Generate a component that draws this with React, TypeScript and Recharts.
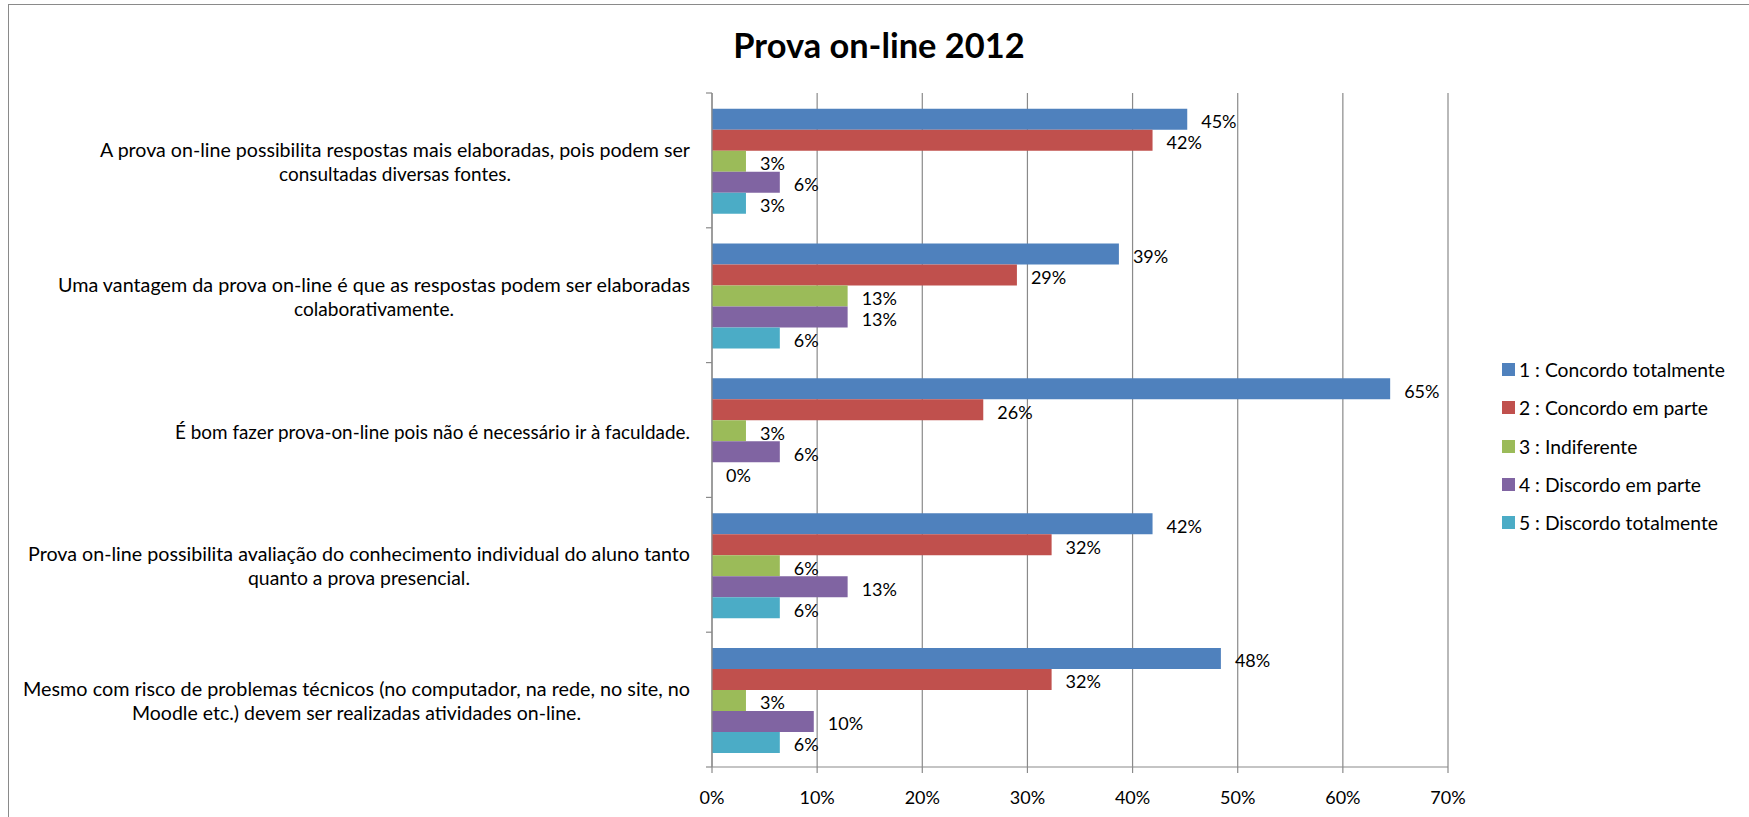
import React from 'react';
import { BarChart, Bar, XAxis, YAxis, CartesianGrid, LabelList, Legend } from 'recharts';

const categories = [
  'A prova on-line possibilita respostas mais elaboradas, pois podem ser consultadas diversas fontes.',
  'Uma vantagem da prova on-line é que as respostas podem ser elaboradas colaborativamente.',
  'É bom fazer prova-on-line pois não é necessário ir à faculdade.',
  'Prova on-line possibilita avaliação  do conhecimento individual do aluno tanto quanto a prova presencial.',
  'Mesmo com risco de problemas técnicos (no computador, na rede, no site, no Moodle etc.) devem ser realizadas atividades on-line.',
];
const categoryLines = [
  ['A prova on-line possibilita respostas mais elaboradas,  pois podem ser', 'consultadas diversas fontes.'],
  ['Uma vantagem da prova on-line é que as respostas podem ser elaboradas', 'colaborativamente.'],
  ['É bom fazer prova-on-line pois não é necessário ir à faculdade.'],
  ['Prova on-line possibilita avaliação  do conhecimento individual do aluno tanto', 'quanto a prova presencial.'],
  ['Mesmo com risco de problemas técnicos (no computador, na rede, no site, no', 'Moodle etc.) devem ser realizadas atividades on-line.'],
];
const seriesNames = [
  '1 : Concordo totalmente',
  '2 : Concordo em parte',
  '3 : Indiferente',
  '4 : Discordo em parte',
  '5 : Discordo totalmente',
];
const concordoTotalmente = [45.2, 38.7, 64.5, 41.9, 48.4];
const concordoEmParte = [41.9, 29.0, 25.8, 32.3, 32.3];
const indiferente = [3.23, 12.9, 3.23, 6.45, 3.23];
const discordoEmParte = [6.45, 12.9, 6.45, 12.9, 9.68];
const discordoTotalmente = [3.23, 6.45, 0, 6.45, 6.45];
const xTicks = [0, 10, 20, 30, 40, 50, 60, 70];

// styling
const colors = ['#4F81BD', '#C0504D', '#9BBB59', '#8064A2', '#4BACC6'];
const labelLineWidths = [[590, 232], [632, 160], [515], [662, 222], [667, 449]];
const FONT = 'Lato, "Open Sans", sans-serif';
const GRID = '#8a8a8a';
const FS = 18;

const seriesValues = [concordoTotalmente, concordoEmParte, indiferente, discordoEmParte, discordoTotalmente];
const data = categories.map((name, i) => {
  const row: any = { name };
  seriesValues.forEach((vals, s) => {
    row['s' + s] = vals[i];
  });
  return row;
});

const CategoryTick = (props: any) => {
  const { x, y, payload, index } = props;
  let i = categories.indexOf(payload.value);
  if (i < 0) i = index;
  const lines = categoryLines[i] || [];
  const widths = labelLineWidths[i] || [];
  const blockW = Math.max(...widths);
  const right = x - 22;
  const cx = right - blockW / 2;
  const lh = 24;
  const y0 = y + 1.5 - ((lines.length - 1) * lh) / 2;
  const half = payload && typeof payload.offset === 'number' ? payload.offset : 0;
  return (
    <g>
      {half > 0 && <line x1={x - 6} x2={x} y1={y - half} y2={y - half} stroke={GRID} strokeWidth={1.2} />}
      {half > 0 && i === categories.length - 1 && (
        <line x1={x - 6} x2={x} y1={y + half} y2={y + half} stroke={GRID} strokeWidth={1.2} />
      )}
      {lines.map((l, k) => (
        <text
          key={k}
          x={cx}
          y={y0 + k * lh}
          textAnchor="middle"
          dominantBaseline="central"
          textLength={widths[k]}
          lengthAdjust="spacingAndGlyphs"
          fontFamily={FONT}
          fontSize={18.5}
          fill="#000"
        >
          {l}
        </text>
      ))}
    </g>
  );
};

const XTick = (props: any) => {
  const { x, y, payload } = props;
  return (
    <text x={x} y={y + 21.5} textAnchor="middle" dominantBaseline="central" fontFamily={FONT} fontSize={FS} fill="#000">
      {payload.value + '%'}
    </text>
  );
};

const ValueLabel = (props: any) => {
  const { x, y, width, height, value } = props;
  return (
    <text
      x={x + width + 14}
      y={y + height / 2 + 2}
      textAnchor="start"
      dominantBaseline="central"
      fontFamily={FONT}
      fontSize={FS}
      fill="#000"
    >
      {Math.round(value) + '%'}
    </text>
  );
};

const LegendContent = () => (
  <div style={{ fontFamily: FONT, fontSize: 19.3, color: '#000' }}>
    {seriesNames.map((n, i) => (
      <div key={i} style={{ height: 38.2, display: 'flex', alignItems: 'center', whiteSpace: 'nowrap' }}>
        <span style={{ width: 13, height: 13, background: colors[i], display: 'inline-block', marginRight: 4 }} />
        <span>{n}</span>
      </div>
    ))}
  </div>
);

export default function App() {
  return (
    <div style={{ position: 'absolute', left: 0, top: 0, width: 1749, height: 817, overflow: 'hidden', background: '#fff', fontFamily: FONT }}>
      <div
        style={{
          position: 'absolute',
          left: 8,
          top: 4,
          width: 1780,
          height: 840,
          border: '1.5px solid #8a8a8a',
          boxSizing: 'border-box',
        }}
      />
      <div
        style={{
          position: 'absolute',
          left: 8,
          width: 1742,
          top: 24,
          lineHeight: '42px',
          textAlign: 'center',
          fontFamily: FONT,
          fontWeight: 700,
          fontSize: 34.4,
          color: '#000',
        }}
      >
        Prova on-line 2012
      </div>
      <div style={{ position: 'absolute', left: 0, top: 0 }}>
        <BarChart
          width={1749}
          height={817}
          data={data}
          layout="vertical"
          margin={{ top: 93, right: 301, left: 0, bottom: 0 }}
          barCategoryGap="11.7%"
          barGap={0}
        >
          <CartesianGrid horizontal={false} vertical={true} stroke={GRID} strokeWidth={1.2} />
          <XAxis
            type="number"
            domain={[0, 70]}
            ticks={xTicks}
            interval={0}
            height={50}
            tickSize={6}
            tickMargin={2}
            stroke={GRID}
            axisLine={{ stroke: GRID, strokeWidth: 1.2 }}
            tickLine={{ stroke: GRID, strokeWidth: 1.2 }}
            tick={<XTick />}
          />
          <YAxis
            type="category"
            dataKey="name"
            width={712}
            interval={0}
            tickSize={0}
            tickMargin={0}
            axisLine={{ stroke: GRID, strokeWidth: 1.2 }}
            tickLine={false}
            tick={<CategoryTick />}
          />
          <Legend
            layout="vertical"
            align="center"
            verticalAlign="middle"
            content={<LegendContent />}
            wrapperStyle={{ left: 1502, top: 350.6, width: 245, height: 191 }}
          />
          {seriesNames.map((n, s) => (
            <Bar key={s} dataKey={'s' + s} name={n} fill={colors[s]} minPointSize={0.01} isAnimationActive={false}>
              <LabelList dataKey={'s' + s} content={<ValueLabel />} />
            </Bar>
          ))}
        </BarChart>
      </div>
    </div>
  );
}
